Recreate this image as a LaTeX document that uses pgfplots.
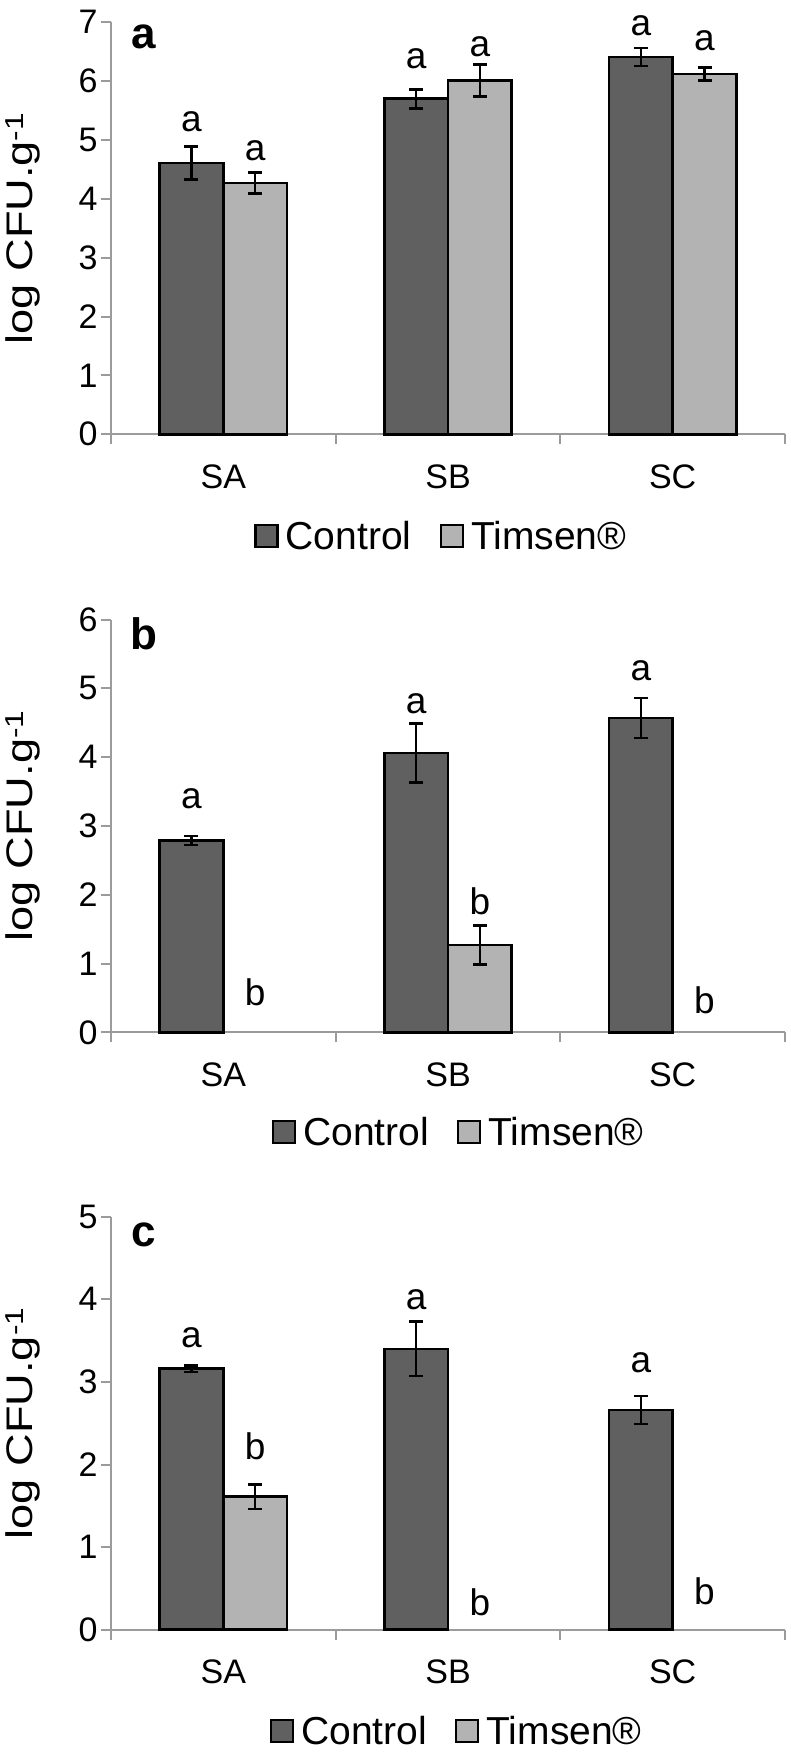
\documentclass[border=0pt]{standalone}
\usepackage{fontspec}
\setmainfont{Liberation Sans}
\usepackage{graphicx}
\usepackage{pgfplots}
\usepackage{pgfplotstable}
\pgfplotsset{compat=1.18}
\definecolor{ctrl}{RGB}{96,96,96}
\definecolor{tims}{RGB}{179,179,179}
\definecolor{axgray}{RGB}{155,155,155}

% panel a
\pgfplotstableread{
x y e
-0.14175 4.61 0.28
0.85825 5.70 0.16
1.85825 6.41 0.15
}\actrl
\pgfplotstableread{
x y e
0.14175 4.27 0.18
1.14175 6.01 0.27
2.14175 6.12 0.11
}\atims
\pgfplotstableread{
x y l
-0.14175 5.31 a
0.14175 4.82 a
0.85825 6.38 a
1.14175 6.59 a
1.85825 6.95 a
2.14175 6.68 a
}\alab
% panel b
\pgfplotstableread{
x y e
-0.14175 2.79 0.065
0.85825 4.06 0.43
1.85825 4.57 0.29
}\bctrl
\pgfplotstableread{
x y e
0.14175 0 0
1.14175 1.27 0.28
2.14175 0 0
}\btims
\pgfplotstableread{
x y l
-0.14175 3.39 a
0.14175 0.59 b
0.85825 4.78 a
1.14175 1.90 b
1.85825 5.26 a
2.14175 0.47 b
}\blab
% panel c
\pgfplotstableread{
x y e
-0.14175 3.16 0.04
0.85825 3.40 0.33
1.85825 2.66 0.17
}\cctrl
\pgfplotstableread{
x y e
0.14175 1.61 0.15
1.14175 0 0
2.14175 0 0
}\ctims
\pgfplotstableread{
x y l
-0.14175 3.53 a
0.14175 2.22 b
0.85825 4.00 a
1.14175 0.33 b
1.85825 3.23 a
2.14175 0.46 b
}\clab

\pgfplotsset{
  panel/.style={
    scale only axis, width=674pt, height=412pt,
    xmin=-0.5, xmax=2.5, ymin=0,
    axis x line=bottom, axis y line=left,
    axis line style={draw=axgray, line width=2pt, -},
    xtick={0,1,2}, xticklabels={SA,SB,SC},
    minor xtick={-0.5,0.5,1.5,2.5},
    tick align=outside,
    major tick length=10pt, minor tick length=10pt,
    major x tick style={draw=none},
    tick style={draw=axgray, line width=2pt},
    minor tick style={draw=axgray, line width=2pt},
    /pgf/number format/assume math mode=true,
    tick label style={font=\fontsize{34}{38}\selectfont},
    xticklabel style={yshift=-17pt},
    ylabel={\scalebox{1.22}[1]{log CFU.g\textsuperscript{-1}}},
    every axis y label/.style={at={(rel axis cs:0,0.5)}, xshift=-88pt, rotate=90, anchor=center,
      font=\fontsize{37}{40}\selectfont},
    clip=false,
    legend style={draw=none, fill=none, anchor=center, font=\fontsize{39}{44}\selectfont,
      /tikz/every even column/.append style={column sep=26pt}},
    legend columns=2,
  },
  barC/.style={ybar, bar width=0.2835, bar shift=0, fill=ctrl, draw=black, line width=2.6pt,
    restrict y to domain=0.001:100,
    legend image code/.code={\draw[fill=ctrl, draw=black, line width=2.4pt] (0pt,-11pt) rectangle (22pt,11pt); \path (27pt,0pt);}},
  barT/.style={ybar, bar width=0.2835, bar shift=0, fill=tims, draw=black, line width=2.6pt,
    restrict y to domain=0.001:100,
    legend image code/.code={\draw[fill=tims, draw=black, line width=2.4pt] (0pt,-11pt) rectangle (22pt,11pt); \path (27pt,0pt);}},
  ebars/.style={error bars/.cd, y dir=both, y explicit,
    error bar style={line width=2.6pt, black},
    error mark options={rotate=90, mark size=7pt, line width=2.6pt, black}},
  labs/.style={forget plot, draw=none, mark=none, nodes near coords, point meta=explicit symbolic,
    every node near coord/.append style={anchor=center, font=\fontsize{37}{40}\selectfont, text=black}},
}

\begin{document}
\begin{tikzpicture}
\useasboundingbox (0,0) rectangle (790pt,1756pt);

% ---- panel a
\begin{axis}[panel, at={(111pt,1321.7pt)}, anchor=south west, ymax=7, ytick={0,1,...,7},
  legend style={at={(0.49,-0.247)}}]
\addplot[barC, ebars] table[x=x, y=y, y error=e]{\actrl};
\addlegendentry{Control}
\addplot[barT, ebars] table[x=x, y=y, y error=e]{\atims};
\addlegendentry{Timsen®}
\addplot[labs] table[x=x, y=y, meta=l]{\alab};
\node[font=\bfseries\fontsize{44}{48}\selectfont, anchor=center] at (axis cs:-0.355,6.75) {a};
\end{axis}

% ---- panel b
\begin{axis}[panel, at={(111pt,723.6pt)}, anchor=south west, ymax=6, ytick={0,1,...,6},
  height=412.8pt, legend style={at={(0.516,-0.241)}}]
\addplot[barC, ebars] table[x=x, y=y, y error=e]{\bctrl};
\addlegendentry{Control}
\addplot[barT, ebars] table[x=x, y=y, y error=e]{\btims};
\addlegendentry{Timsen®}
\addplot[labs] table[x=x, y=y, meta=l]{\blab};
\node[font=\bfseries\fontsize{44}{48}\selectfont, anchor=center] at (axis cs:-0.355,5.80) {b};
\end{axis}

% ---- panel c
\begin{axis}[panel, at={(111pt,126.3pt)}, anchor=south west, ymax=5, ytick={0,1,...,5},
  height=413pt, legend style={at={(0.513,-0.245)}}]
\addplot[barC, ebars] table[x=x, y=y, y error=e]{\cctrl};
\addlegendentry{Control}
\addplot[barT, ebars] table[x=x, y=y, y error=e]{\ctims};
\addlegendentry{Timsen®}
\addplot[labs] table[x=x, y=y, meta=l]{\clab};
\node[font=\bfseries\fontsize{44}{48}\selectfont, anchor=center] at (axis cs:-0.355,4.78) {c};
\end{axis}
\end{tikzpicture}
\end{document}
